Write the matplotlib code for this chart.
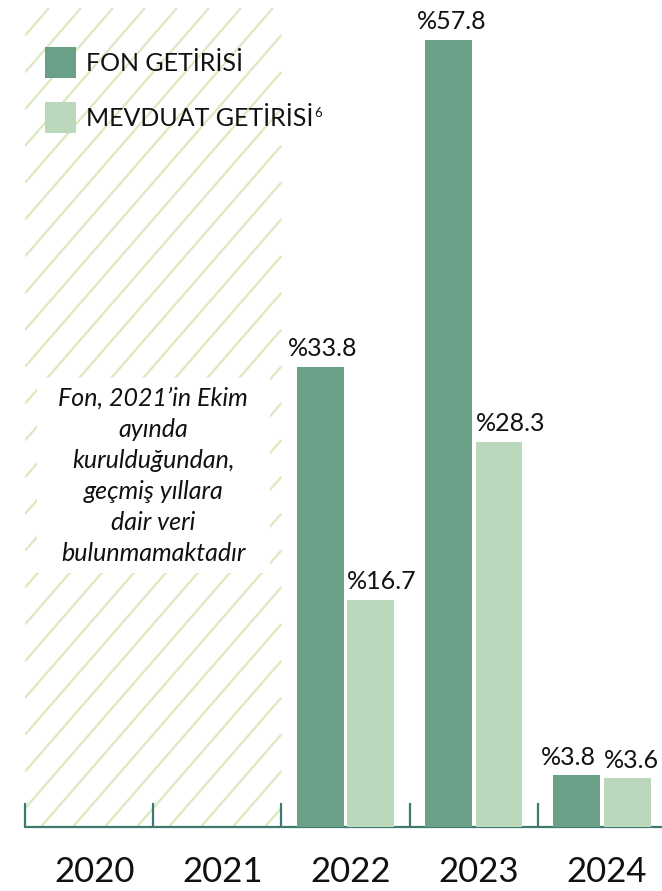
import numpy as np
import matplotlib
matplotlib.use("Agg")
import matplotlib.pyplot as plt
from matplotlib.patches import Rectangle
from matplotlib.collections import LineCollection
from matplotlib.transforms import IdentityTransform

plt.rcParams['font.family'] = ['Lato', 'DejaVu Sans']

# data
years = ['2020', '2021', '2022', '2023', '2024']
fon = [None, None, 33.8, 57.8, 3.8]
mevduat = [None, None, 16.7, 28.3, 3.6]
legend_labels = ['FON GETİRİSİ', 'MEVDUAT GETİRİSİ']
note = 'Fon, 2021’in Ekim\nayında\nkurulduğundan,\ngeçmiş yıllara\ndair veri\nbulunmamaktadır'

c_fon = '#6a9f88'
c_mev = '#bcd8bc'
c_axis = '#3d7b70'
c_hatch = '#d9ebbe'

W, H = 662, 891
fig = plt.figure(figsize=(W / 100, H / 100), dpi=100)
ax = fig.add_axes([25 / W, 64 / H, 641 / W, 819 / H])
ymax = 819 / 13.62
ax.set_xlim(-0.5, 4.5)
ax.set_ylim(0, ymax)

x = np.arange(len(years))
bw = 0.365
off = 0.197

# hatched "no data" area (lines clipped by hand to the box)
fig.canvas.draw()
x0, y0 = ax.transData.transform((-0.5, 0))
x1, y1 = ax.transData.transform((1.5, ymax))
slope = 1.15
segs = []
for s in np.arange(x0 - (y1 - y0) / slope - 40, x1 + 40, 32):
    # line: y = y0 + slope * (x - s)
    xa = max(s, x0)
    xb = min(s + (y1 - y0) / slope, x1)
    if xb <= xa:
        continue
    segs.append([(xa, y0 + slope * (xa - s)), (xb, y0 + slope * (xb - s))])
lc = LineCollection(segs, colors=c_hatch, linewidths=1.6,
                    transform=IdentityTransform(), zorder=0)
ax.add_collection(lc)

# white box behind note
ax.add_patch(Rectangle((-0.406, 18.65), 1.816, 14.32, facecolor='white',
                       edgecolor='none', zorder=1))
ax.text(0.5, 25.8, note, ha='center', va='center', fontsize=18,
        style='italic', linespacing=1.42, color='#111111', zorder=2)

# bars
for i in range(len(years)):
    if fon[i] is None:
        continue
    ax.bar(x[i] - off, fon[i], bw, color=c_fon, zorder=3)
    ax.bar(x[i] + off, mevduat[i], bw, color=c_mev, zorder=3)
    dx = -6 if i == 4 else 2
    ax.annotate('%' + f'{fon[i]:.1f}', (x[i] - off, fon[i]), xytext=(dx, 7.5),
                textcoords='offset points', ha='center', va='baseline',
                fontsize=18, color='#111111')
    ax.annotate('%' + f'{mevduat[i]:.1f}', (x[i] + off - bw / 2, mevduat[i]),
                xytext=(0, 7.5), textcoords='offset points', ha='left',
                va='baseline', fontsize=18, color='#111111')

# axes styling
for sp in ['top', 'right', 'left']:
    ax.spines[sp].set_visible(False)
ax.spines['bottom'].set_color(c_axis)
ax.spines['bottom'].set_linewidth(1.6)
ax.set_yticks([])
ax.set_xticks(x + 0.04)
ax.set_xticklabels(years, fontsize=25, color='#111111')
ax.tick_params(axis='x', which='major', length=0, pad=21)
ax.set_xticks(np.arange(-0.5, 4.0, 1), minor=True)
ax.tick_params(axis='x', which='minor', direction='in', length=17,
               width=1.6, color=c_axis)

# legend
for k, (lab, col) in enumerate(zip(legend_labels, [c_fon, c_mev])):
    top = 47 + k * 55
    fig.add_artist(Rectangle((45 / W, 1 - (top + 31) / H), 31 / W, 31 / H,
                             transform=fig.transFigure, facecolor=col,
                             edgecolor='none'))
    t = fig.text(86 / W, 1 - (top + 24) / H, lab, fontsize=18,
                 va='baseline', ha='left', color='#111111')
fig.canvas.draw()
bb = t.get_window_extent()
fig.text((bb.x1 + 1) / W, 1 - 107 / H, '6', fontsize=9.5, va='top',
         ha='left', color='#111111')

fig.savefig('out.png', dpi=100)
